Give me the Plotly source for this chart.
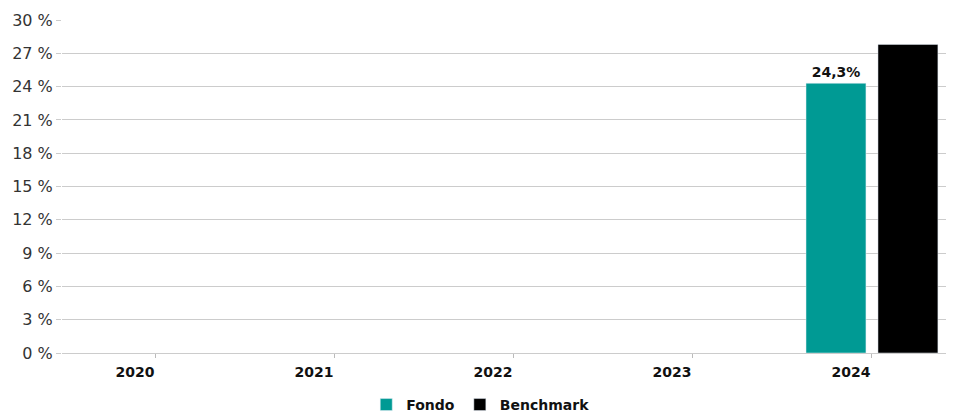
import plotly.graph_objects as go

years = ["2020", "2021", "2022", "2023", "2024"]
fondo = [None, None, None, None, 24.3]
benchmark = [None, None, None, None, 27.8]
fondo_labels = ["", "", "", "", "24,3%"]
y_ticks = [0, 3, 6, 9, 12, 15, 18, 21, 24, 27, 30]
y_ticktext = [f"{v} %" for v in y_ticks]

fig = go.Figure()
fig.add_trace(go.Bar(
    name="Fondo", x=years, y=fondo, marker_color="#009A94",
    text=fondo_labels, textposition="outside", cliponaxis=False,
    textfont=dict(family="DejaVu Sans", size=14, color="#111111", weight="bold"),
))
fig.add_trace(go.Bar(
    name="Benchmark", x=years, y=benchmark, marker_color="#000000",
))

fig.update_layout(
    width=946, height=406,
    margin=dict(l=54, r=4, t=12, b=61, autoexpand=False),
    paper_bgcolor="white", plot_bgcolor="white",
    barmode="group", bargap=0.196, bargroupgap=0.167,
    font=dict(family="DejaVu Sans", size=14, color="#222222"),
    showlegend=True,
    legend=dict(orientation="h", x=0.471, xanchor="center", y=-0.156, yanchor="middle",
                font=dict(family="DejaVu Sans", size=14, color="#111111", weight="bold"),
                itemwidth=30, traceorder="normal"),
)
fig.update_xaxes(
    type="category", range=[-0.525, 4.436], automargin=False,
    showgrid=False, showline=False, zeroline=False,
    ticks="outside", ticklen=4, tickcolor="#bbbbbb",
    ticklabelshift=-21, ticklabelstandoff=2,
    tickfont=dict(family="DejaVu Sans", size=14, color="#111111", weight="bold"),
)
fig.update_yaxes(
    range=[0, 30], tickvals=y_ticks, ticktext=y_ticktext, automargin=False,
    showgrid=True, gridcolor="#cccccc", gridwidth=1,
    zeroline=True, zerolinecolor="#cccccc", zerolinewidth=1,
    ticks="outside", ticklen=5, tickcolor="#cccccc",
    tickfont=dict(family="DejaVu Sans", size=16, color="#333333"),
)

fig.write_html("out.html")
